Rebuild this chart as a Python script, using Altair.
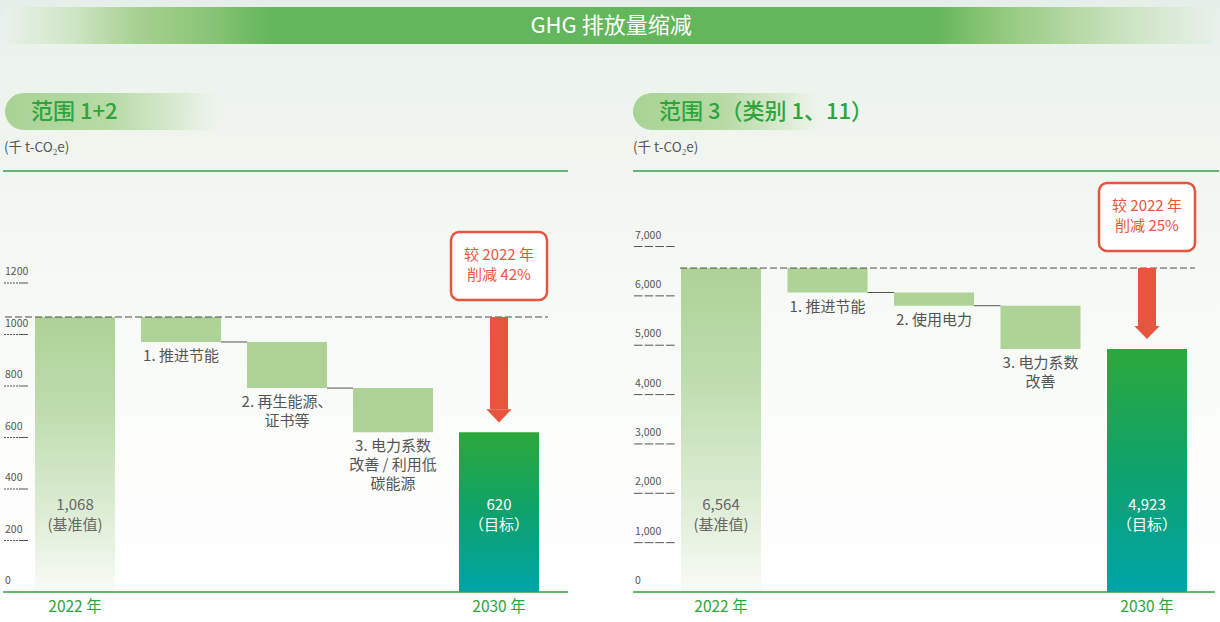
import altair as alt
import pandas as pd

FONT = "Noto Sans CJK SC"
GREEN_TEXT = "#2ea43c"
LINE_GREEN = "#3a9e48"
STEP_GREEN = "#aed396"
RED = "#e8553f"
GREY = "#555555"

TITLE = "GHG 排放量缩减"
UNIT = "(千 t-CO₂e)"
BASE_YEAR = 2022
YEARS = ["2022 年", "2030 年"]
BASE_NOTE = "(基准值)"
TARGET_NOTE = "（目标）"

# Scope 1+2 waterfall
S12_TITLE = "范围 1+2"
S12_BASE = 1068
S12_TARGET = 620
S12_STEPS = ["1. 推进节能", "2. 再生能源、\n证书等", "3. 电力系数\n改善 / 利用低\n碳能源"]
S12_CUTS = [97, 179, 172]
S12_TICKS = [0, 200, 400, 600, 800, 1000, 1200]

# Scope 3 (categories 1 and 11) waterfall
S3_TITLE = "范围 3（类别 1、11）"
S3_BASE = 6564
S3_TARGET = 4923
S3_STEPS = ["1. 推进节能", "2. 使用电力", "3. 电力系数\n改善"]
S3_CUTS = [496, 267, 878]
S3_TICKS = [0, 1000, 2000, 3000, 4000, 5000, 6000, 7000]


def grad(stops, horizontal=False):
    return alt.LinearGradient(
        gradient="linear",
        stops=[alt.GradientStop(color=c, offset=o) for o, c in stops],
        x1=0, y1=0, x2=1 if horizontal else 0, y2=0 if horizontal else 1,
    )


BG_FILL = grad([(0, "#e5eee9"), (0.08, "#ecf3ec"), (0.3, "#f2f6f0"), (0.65, "#fafcf9"), (1, "#ffffff")])
BANNER_FILL = grad([(0, "#e9f2ea"), (0.055, "#cfe6c5"), (0.11, "#a6d18f"), (0.165, "#8cc679"),
                    (0.22, "#63b65b"), (0.77, "#63b65b"), (0.82, "#8fc87a"), (0.88, "#b3d8a1"),
                    (0.94, "#d0e6c8"), (1, "#e6f0e8")], horizontal=True)
PILL_FILL = grad([(0, "#a9d395"), (0.45, "#b6daa4"), (0.8, "#dcecd5"), (1, "rgba(240,246,238,0)")],
                 horizontal=True)
BASE_FILL = grad([(0, "#acd296"), (0.35, "#bfddaf"), (0.7, "#dcecd3"), (1, "#f8fbf6")])
TARGET_FILL = grad([(0, "#2ba83b"), (0.5, "#0ea26c"), (1, "#00a4a8")])

ARROW_HEAD = "M-1,-0.52L1,-0.52L0,0.52Z"


def waterfall_rows(base, target, steps, cuts):
    keys = ["base"] + [f"step{i + 1}" for i in range(len(steps))] + ["target"]
    pct = round((1 - target / base) * 100)
    rows = [dict(key="base", kind="base", top=base, bot=0,
                 inner=f"{base:,}\n{BASE_NOTE}", year=YEARS[0])]
    level = base
    for i, (name, cut) in enumerate(zip(steps, cuts)):
        rows.append(dict(key=keys[i + 1], kind="step", top=level, bot=level - cut,
                         label=name, next=keys[i + 2]))
        level -= cut
    rows.append(dict(key="target", kind="target", top=target, bot=0,
                     inner=f"{target:,}\n{TARGET_NOTE}", year=YEARS[1]))
    df = pd.DataFrame(rows)
    df["ref"] = base
    df["zero"] = 0
    df["note"] = f"较 {BASE_YEAR} 年\n削减 {pct}%"
    return keys, df


def panel(base, target, steps, cuts, ticks, tick_fmt, style):
    keys, df = waterfall_rows(base, target, steps, cuts)
    tdf = pd.DataFrame({"v": ticks, "lab": [format(t, tick_fmt) for t in ticks]})

    ys = alt.Scale(domain=[0, style["ymax"]], nice=False, zero=True)
    x = alt.X("key:N", sort=keys, axis=None,
              scale=alt.Scale(range=style["x_range"], paddingInner=style["pi"],
                              paddingOuter=style["po"]))

    def Y(f):
        return alt.Y(f, scale=ys, axis=None)

    c = alt.Chart(df).encode(x=x)
    half = 40

    base_bar = c.transform_filter("datum.kind == 'base'").mark_bar(fill=BASE_FILL).encode(
        y=Y("top:Q"), y2="bot:Q")
    step_bar = c.transform_filter("datum.kind == 'step'").mark_bar(color=STEP_GREEN).encode(
        y=Y("top:Q"), y2="bot:Q")
    target_bar = c.transform_filter("datum.kind == 'target'").mark_bar(fill=TARGET_FILL).encode(
        y=Y("top:Q"), y2="bot:Q")
    connectors = c.transform_filter("datum.kind == 'step' && datum.next != 'target'").mark_rule(
        color="#555", strokeWidth=1, xOffset=half, x2Offset=-half).encode(
        y=Y("bot:Q"), x2=alt.X2("next"))
    ref_line = c.transform_filter("datum.kind == 'base'").mark_rule(
        color="#4d4d4d", strokeWidth=1, strokeDash=[7, 3]).encode(
        y=Y("ref:Q"), x=alt.value(style["dash_x"][0]), x2=alt.value(style["dash_x"][1]))
    tgt = c.transform_filter("datum.kind == 'target'")
    shaft = tgt.mark_bar(width=18, color=RED, y2Offset=-23).encode(y=Y("ref:Q"), y2="top:Q")
    head = tgt.mark_point(shape=ARROW_HEAD, size=640, filled=True, color=RED, opacity=1,
                          strokeWidth=0, yOffset=-16.5).encode(y=Y("top:Q"))
    box = tgt.mark_bar(width=96, cornerRadius=8, fill="white", stroke=RED, strokeWidth=2.5,
                       yOffset=-85, y2Offset=-17).encode(y=Y("ref:Q"), y2="ref:Q")
    box_text = tgt.mark_text(lineBreak="\n", baseline="top", dy=-69, lineHeight=20,
                             color=RED, fontSize=15, fontWeight="normal").encode(
        y=Y("ref:Q"), text="note:N")
    inner = c.transform_filter("datum.kind != 'step'").mark_text(
        lineBreak="\n", baseline="top", dy=-94, lineHeight=19.5, fontSize=15).encode(
        y=Y("zero:Q"), text="inner:N",
        color=alt.condition("datum.kind == 'target'", alt.value("white"), alt.value("#666")))
    step_text = c.transform_filter("datum.kind == 'step'").mark_text(
        lineBreak="\n", baseline="top", dy=7, lineHeight=19, fontSize=15, color=GREY).encode(
        y=Y("bot:Q"), text="label:N")
    year_text = c.transform_filter("datum.kind != 'step'").mark_text(
        baseline="middle", dy=15, fontSize=15.5, color=GREEN_TEXT).encode(
        y=Y("zero:Q"), text="year:N")
    baseline = c.transform_filter("datum.kind == 'base'").mark_rule(
        color=GREEN_TEXT, strokeWidth=1.5).encode(
        y=Y("zero:Q"), x=alt.value(style["base_x"][0]), x2=alt.value(style["base_x"][1]))

    t = alt.Chart(tdf)
    tick_rules = t.transform_filter("datum.v > 0").mark_rule(
        color="#555", strokeWidth=1, strokeDash=style["tick_dash"]).encode(
        y=Y("v:Q"), x=alt.value(style["tick_x"][0]), x2=alt.value(style["tick_x"][1]))
    tick_labels = t.mark_text(align="left", baseline="alphabetic", dy=-8, fontSize=10.5,
                              color=GREY).encode(
        y=Y("v:Q"), x=alt.value(style["tick_x"][0] + 1), text="lab:N")

    return alt.layer(
        base_bar, step_bar, target_bar, connectors, ref_line, shaft, head, box, box_text,
        inner, step_text, year_text, baseline, tick_rules, tick_labels,
    ).properties(width=style["width"], height=421)


left = panel(S12_BASE, S12_TARGET, S12_STEPS, S12_CUTS, S12_TICKS, "d", dict(
    width=568, ymax=1635, x_range=[22, 552], pi=0.2453, po=0.1226,
    dash_x=(5, 548), base_x=(3, 568), tick_x=(4, 28),
    tick_dash=[2, 1, 2, 1, 2, 1, 2, 1, 2, 1, 9, 60],
))
right = panel(S3_BASE, S3_TARGET, S3_STEPS, S3_CUTS, S3_TICKS, ",", dict(
    width=587, ymax=8530, x_range=[34.75, 567.25], pi=0.249, po=0.1245,
    dash_x=(47, 562), base_x=(0, 582), tick_x=(1, 43),
    tick_dash=[8.5, 2.2],
))

# Page heading: background wash, banner, section pills, units and rules
one = alt.Data(values=[{"a": 1}])


def deco_rect(x1, x2, y1, y2, **mark):
    return alt.Chart(one).mark_rect(**mark).encode(
        x=alt.value(x1), x2=alt.value(x2), y=alt.value(y1), y2=alt.value(y2))


def deco_text(x, y, text, **mark):
    return alt.Chart(one).mark_text(**mark).encode(
        x=alt.value(x), y=alt.value(y), text=alt.value(text))


def deco_rule(x1, x2, y, **mark):
    return alt.Chart(one).mark_rule(**mark).encode(
        x=alt.value(x1), x2=alt.value(x2), y=alt.value(y))


header = alt.layer(
    deco_rect(0, 1220, 0, 622, fill=BG_FILL),
    deco_rect(5, 1213, 7, 44, fill=BANNER_FILL),
    deco_text(611, 26, TITLE, fontSize=22, color="white", fontWeight="normal", baseline="middle"),
    deco_rect(5, 230, 93, 130, fill=PILL_FILL, cornerRadius=18.5),
    deco_rect(633, 830, 93, 130, fill=PILL_FILL, cornerRadius=18.5),
    deco_text(31, 112, S12_TITLE, fontSize=22, color=GREEN_TEXT, fontWeight=500,
              align="left", baseline="middle"),
    deco_text(659, 112, S3_TITLE, fontSize=22, color=GREEN_TEXT, fontWeight=500,
              align="left", baseline="middle"),
    deco_text(4, 148, UNIT, fontSize=13.5, color=GREY, align="left", baseline="middle"),
    deco_text(633, 148, UNIT, fontSize=13.5, color=GREY, align="left", baseline="middle"),
    deco_rule(3, 568, 171, color=LINE_GREEN, strokeWidth=1.5),
    deco_rule(633, 1219, 171, color=LINE_GREEN, strokeWidth=1.5),
).properties(width=1220, height=171)

chart = alt.vconcat(
    header,
    alt.hconcat(left, right, spacing=65, bounds="flush"),
    spacing=0, bounds="flush",
).properties(padding=0, background="white").configure(font=FONT).configure_view(stroke=None)

chart.save("out.html", embed_options={"renderer": "svg", "actions": False})
